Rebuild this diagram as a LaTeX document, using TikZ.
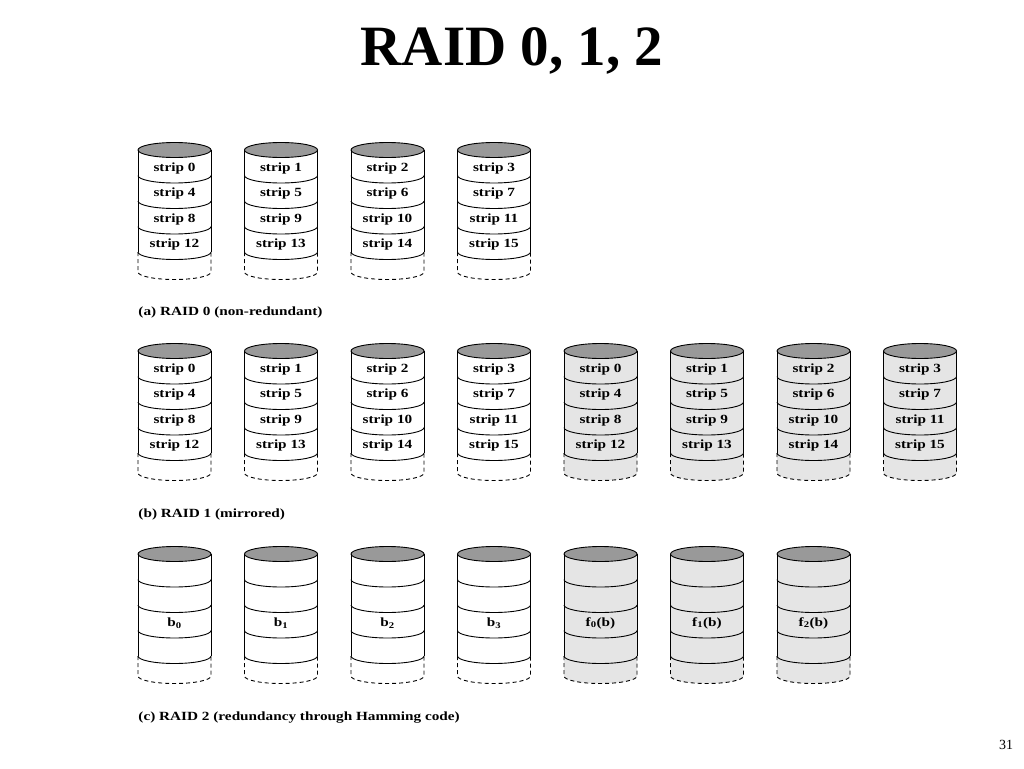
\documentclass[tikz,border=0pt]{standalone}
\usepackage{fontspec}
\setmainfont{Liberation Serif}
\newfontfamily\diskfont[FakeStretch=1.22]{Liberation Serif}
\usetikzlibrary{positioning}
\definecolor{capgray}{gray}{0.6}
\definecolor{mirgray}{gray}{0.9}

% one disk: centre x, top y, body colour
\newcommand{\raiddisk}[3]{%
\begin{scope}[shift={(#1,#2)}]
\fill[#3] (-36.5,0) -- (-36.5,122) arc[start angle=180,end angle=0,x radius=36.5,y radius=7.5] -- (36.5,0) -- cycle;
\draw[fill=capgray] (0,0) ellipse [x radius=36.5,y radius=7.5];
\draw (-36.5,0) -- (-36.5,102) (36.5,0) -- (36.5,102);
\foreach \k in {1,...,4}
  \draw (-36.5,\k*25.5) arc[start angle=180,end angle=0,x radius=36.5,y radius=7.5];
\draw[dashed] (-36.5,102) -- (-36.5,122) arc[start angle=180,end angle=0,x radius=36.5,y radius=7.5] -- (36.5,102);
\end{scope}}

\begin{document}
\begin{tikzpicture}[x=1pt,y=-1pt,line width=0.9pt]
\tikzstyle{every node}=[inner sep=0pt,font=\diskfont\bfseries\fontsize{12.5}{14}\selectfont]
\tikzstyle{dashed}=[dash pattern=on 4pt off 3pt]
\fill[white] (0,0) rectangle (1024,768);
\useasboundingbox (0,0) rectangle (1024,768);

\node[anchor=base,font=\bfseries\fontsize{57}{60}\selectfont] (title) at (512,65) {RAID 0, 1, 2};

% (a) RAID 0
\foreach \c in {0,...,3} \raiddisk{174.5+106.5*\c}{150}{white};
\foreach \c in {0,...,3}
  \foreach \r in {0,...,3}{
    \pgfmathtruncatemacro{\n}{4*\r+\c}
    \node (a\n) at (174.5+106.5*\c,150+18+25.5*\r) {strip \n};
  }
\node[anchor=base west] (capa) at (138,315) {(a) RAID 0 (non-redundant)};

% (b) RAID 1
\foreach \c in {0,...,3} \raiddisk{174.5+106.5*\c}{351}{white};
\foreach \c in {4,...,7} \raiddisk{174.5+106.5*\c}{351}{mirgray};
\foreach \c in {0,...,7}
  \foreach \r in {0,...,3}{
    \pgfmathtruncatemacro{\n}{4*\r+mod(\c,4)}
    \node (b\c-\r) at (174.5+106.5*\c,351+18+25.5*\r) {strip \n};
  }
\node[anchor=base west] (capb) at (138,517) {(b) RAID 1 (mirrored)};

% (c) RAID 2
\foreach \c in {0,...,3} \raiddisk{174.5+106.5*\c}{554}{white};
\foreach \c in {4,...,6} \raiddisk{174.5+106.5*\c}{554}{mirgray};
\foreach \c/\t in {0/b\textsubscript{0},1/b\textsubscript{1},2/b\textsubscript{2},3/b\textsubscript{3},
                   4/f\textsubscript{0}(b),5/f\textsubscript{1}(b),6/f\textsubscript{2}(b)}
  \node (c\c) at (174.5+106.5*\c,554+18+25.5*2) {\t};
\node[anchor=base west] (capc) at (138,720) {(c) RAID 2 (redundancy through Hamming code)};

\node[font=\fontsize{14}{16}\selectfont] (page) at (1006,745) {31};
\end{tikzpicture}
\end{document}
